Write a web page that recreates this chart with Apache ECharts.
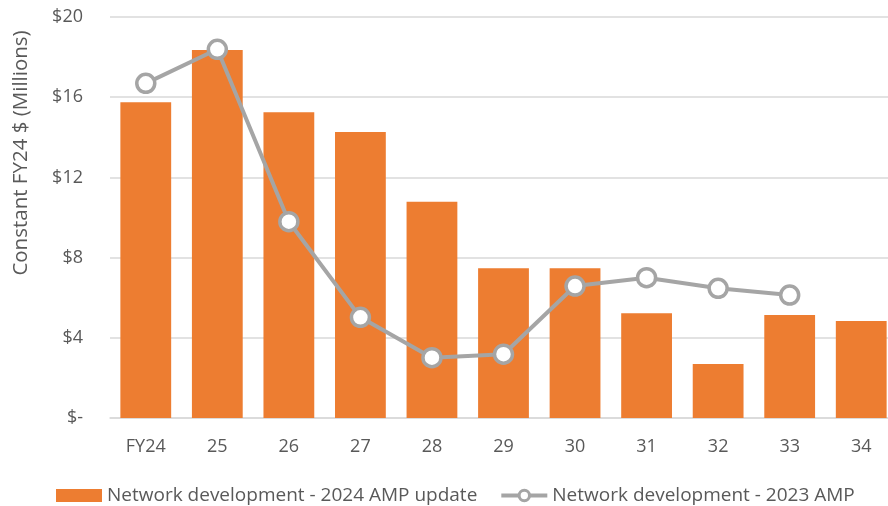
<!DOCTYPE html>
<html>
<head>
<meta charset="utf-8">
<script src="https://cdn.jsdelivr.net/npm/echarts@6/dist/echarts.min.js"></script>
<style>
  html, body { margin: 0; padding: 0; background: #ffffff; overflow: hidden; }
  /* the plot runs a few pixels past the visible right edge */
  #chart { width: 897px; height: 506px; }
</style>
</head>
<body>
<div id="chart"></div>
<script>
// Financial years on the x axis
const years = ['FY24', '25', '26', '27', '28', '29', '30', '31', '32', '33', '34'];

// Network development spend, constant FY24 $ millions
const amp2024Update = [15.75, 18.35, 15.25, 14.26, 10.79, 7.47, 7.47, 5.22, 2.69, 5.14, 4.84];
const amp2023 = [16.69, 18.39, 9.79, 5.02, 3.01, 3.18, 6.58, 7.0, 6.47, 6.13, null];

// Y-axis tick values and their labels
const yTicks = [0, 4, 8, 12, 16, 20];
const yTickLabels = ['$-', '$4', '$8', '$12', '$16', '$20'];

const seriesNames = ['Network development - 2024 AMP update', 'Network development - 2023 AMP'];
const axisTitle = 'Constant FY24 $ (Millions)';

const FONT = '"Open Sans", sans-serif';
const TEXT = '#595959';
const GREY = '#A5A5A5';

const chart = echarts.init(document.getElementById('chart'));
chart.setOption({
  animation: false,
  backgroundColor: '#ffffff',
  grid: { left: 110, right: 0, top: 17, bottom: 88, containLabel: false },
  xAxis: {
    type: 'category',
    data: years,
    axisLine: { lineStyle: { color: '#D9D9D9', width: 1.5 } },
    axisTick: { show: false },
    axisLabel: { color: TEXT, fontFamily: FONT, fontSize: 18, margin: 20 }
  },
  yAxis: {
    type: 'value',
    min: 0,
    max: 20,
    interval: 4,
    axisLine: { show: false },
    axisTick: { show: false },
    splitLine: { lineStyle: { color: '#D9D9D9', width: 1.5 } },
    axisLabel: {
      color: TEXT, fontFamily: FONT, fontSize: 18, margin: 27,
      formatter: v => yTickLabels[yTicks.indexOf(v)]
    }
  },
  legend: {
    left: 51,
    top: 481,
    itemGap: 22,
    itemWidth: 46,
    itemHeight: 13,
    textStyle: { color: TEXT, fontFamily: FONT, fontSize: 19 },
    data: [
      { name: seriesNames[0], icon: 'rect' },
      {
        name: seriesNames[1],
        lineStyle: { width: 4, color: GREY },
        itemStyle: { color: '#ffffff', borderColor: GREY, borderWidth: 3 }
      }
    ]
  },
  graphic: [{
    type: 'text',
    x: 21,
    y: 153,
    rotation: Math.PI / 2,
    style: {
      text: axisTitle,
      fill: TEXT,
      font: '20.5px ' + FONT,
      align: 'center',
      verticalAlign: 'middle'
    }
  }],
  series: [
    {
      name: seriesNames[0],
      type: 'bar',
      data: amp2024Update,
      barCategoryGap: '29%',
      itemStyle: { color: '#ED7D31' }
    },
    {
      name: seriesNames[1],
      type: 'line',
      data: amp2023,
      symbol: 'circle',
      symbolSize: 18,
      lineStyle: { color: GREY, width: 4 },
      itemStyle: { color: '#ffffff', borderColor: GREY, borderWidth: 3.5 },
      z: 3
    }
  ]
});
</script>
</body>
</html>
